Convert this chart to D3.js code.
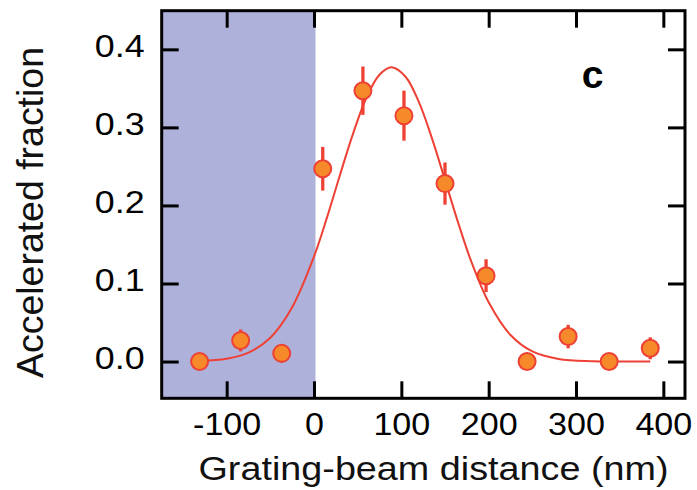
<!DOCTYPE html>
<html>
<head>
<meta charset="utf-8">
<script src="https://cdn.jsdelivr.net/npm/d3@7/dist/d3.min.js"></script>
<style>
  html, body { margin: 0; padding: 0; background: #fff; }
  svg { display: block; font-family: "Liberation Sans", Arial, Helvetica, sans-serif; }
</style>
</head>
<body>
<svg id="chart" width="697" height="490"></svg>
<script>
// Measured accelerated fraction vs grating-beam distance
const distance = [-131, -84, -37, 10, 56, 103, 150, 197, 244, 291, 338, 385];
const fraction = [0.000, 0.027, 0.0105, 0.247, 0.347, 0.315, 0.228, 0.110, 0.000, 0.032, 0.000, 0.017];
const fractionErr = [0.009, 0.014, 0.012, 0.028, 0.031, 0.032, 0.027, 0.021, 0.010, 0.015, 0.010, 0.014];

// Fitted curve, sampled along its length
const fitX = [-131, -100, -75, -50, -25, 0, 15, 30, 45, 60, 75, 89, 105, 120, 135, 150, 165, 180, 200, 225, 250, 280, 320, 385];
const fitY = [0.0007, 0.0036, 0.0114, 0.0305, 0.0696, 0.1346, 0.185, 0.240, 0.293, 0.338, 0.3675, 0.377, 0.3646, 0.3327, 0.2863, 0.2324, 0.178, 0.1284, 0.0759, 0.034, 0.0129, 0.0033, 0.0004, 0.0];

// Axis ticks
const xTicks = [-100, 0, 100, 200, 300, 400];
const yTicks = [0.0, 0.1, 0.2, 0.3, 0.4];

// Shaded region (grating side) ends at zero distance
const shadeEnd = 0;

const xTitle = "Grating-beam distance (nm)";
const yTitle = "Accelerated fraction";
const panelLabel = "c";

const svg = d3.select("#chart");
const plot = { left: 161.7, right: 685, top: 10.7, bottom: 398.3 };

const x = d3.scaleLinear().domain([-174.4, 424.8]).range([plot.left, plot.right]);
const y = d3.scaleLinear().domain([-0.0471, 0.4495]).range([plot.bottom, plot.top]);

const red = "#ee4034";
const orange = "#f68a2a";
const tickLen = 17;

// Shaded band
svg.append("rect")
  .attr("x", plot.left)
  .attr("y", plot.top)
  .attr("width", x(shadeEnd) + 1.5 - plot.left)
  .attr("height", plot.bottom - plot.top)
  .attr("fill", "#aeb2da");

// Fit line
const fitPts = fitX.map((v, i) => [v, fitY[i]]);
svg.append("path")
  .datum(fitPts)
  .attr("fill", "none")
  .attr("stroke", red)
  .attr("stroke-width", 2)
  .attr("d", d3.line().x(d => x(d[0])).y(d => y(d[1])).curve(d3.curveCatmullRom));

// Error bars
const pts = distance.map((d, i) => ({ x: d, y: fraction[i], e: fractionErr[i] }));
svg.append("g").selectAll("line").data(pts).join("line")
  .attr("x1", d => x(d.x)).attr("x2", d => x(d.x))
  .attr("y1", d => y(d.y - d.e)).attr("y2", d => y(d.y + d.e))
  .attr("stroke", red).attr("stroke-width", 3.3);

// Markers
svg.append("g").selectAll("circle").data(pts).join("circle")
  .attr("cx", d => x(d.x)).attr("cy", d => y(d.y))
  .attr("r", 8.5)
  .attr("fill", orange)
  .attr("stroke", red)
  .attr("stroke-width", 2);

// Axes with inward ticks on all four sides
function styleAxis(g) {
  g.select(".domain").remove();
  g.selectAll(".tick line").attr("stroke", "#000").attr("stroke-width", 3);
}

const gx = svg.append("g")
  .attr("transform", `translate(0,${plot.bottom})`)
  .call(d3.axisBottom(x).tickValues(xTicks).tickSize(-tickLen).tickFormat(d => String(d)))
  .call(styleAxis);
gx.selectAll(".tick text")
  .attr("y", 36.7).attr("dy", null)
  .attr("fill", "#000")
  .attr("font-size", 31)
  .attr("transform", "scale(1.1,1)");

svg.append("g")
  .attr("transform", `translate(0,${plot.top})`)
  .call(d3.axisTop(x).tickValues(xTicks).tickSize(-tickLen).tickFormat(""))
  .call(styleAxis);

const gy = svg.append("g")
  .attr("transform", `translate(${plot.left},0)`)
  .call(d3.axisLeft(y).tickValues(yTicks).tickSize(-tickLen).tickFormat(d3.format(".1f")))
  .call(styleAxis);
gy.selectAll(".tick text")
  .attr("x", 0).attr("dy", null).attr("y", 7.2)
  .attr("text-anchor", "end")
  .attr("fill", "#000")
  .attr("font-size", 32)
  .attr("transform", "translate(-17,0) scale(1.12,1)");

svg.append("g")
  .attr("transform", `translate(${plot.right},0)`)
  .call(d3.axisRight(y).tickValues(yTicks).tickSize(-tickLen).tickFormat(""))
  .call(styleAxis);

// Frame
svg.append("rect")
  .attr("x", plot.left).attr("y", plot.top)
  .attr("width", plot.right - plot.left)
  .attr("height", plot.bottom - plot.top)
  .attr("fill", "none")
  .attr("stroke", "#000")
  .attr("stroke-width", 3);

// Titles
svg.append("text")
  .attr("x", 433.5).attr("y", 480)
  .attr("text-anchor", "middle")
  .attr("font-size", 33)
  .attr("textLength", 470)
  .attr("lengthAdjust", "spacingAndGlyphs")
  .attr("fill", "#111")
  .text(xTitle);

svg.append("text")
  .attr("transform", "translate(43,212.5) rotate(-90)")
  .attr("text-anchor", "middle")
  .attr("font-size", 37)
  .attr("textLength", 331)
  .attr("lengthAdjust", "spacingAndGlyphs")
  .attr("fill", "#111")
  .text(yTitle);

svg.append("text")
  .attr("x", 592.5).attr("y", 88)
  .attr("text-anchor", "middle")
  .attr("font-size", 39)
  .attr("font-weight", "bold")
  .attr("fill", "#000")
  .text(panelLabel);
</script>
</body>
</html>
